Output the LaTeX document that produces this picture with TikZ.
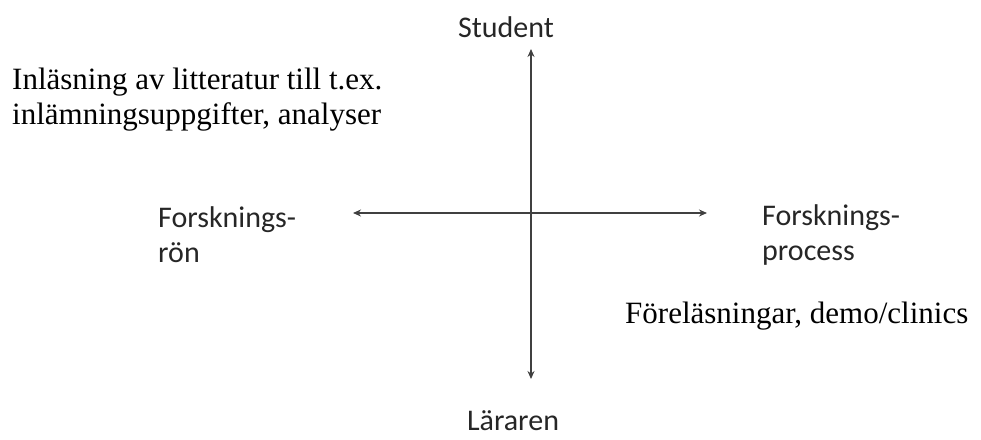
\documentclass[tikz,border=0pt]{standalone}
\usepackage{fontspec}
\setmainfont{Liberation Serif}
\newfontfamily\calibrifont{Carlito}
\usetikzlibrary{arrows.meta}
\tikzset{
  axis/.style={draw=black!75, line width=1.3pt, {Stealth[length=8pt,width=7pt]}-{Stealth[length=8pt,width=7pt]}},
  sanslabel/.style={font=\calibrifont\fontsize{30}{35}\selectfont, text=black!85, inner sep=0pt},
  seriflabel/.style={font=\fontsize{31}{35}\selectfont, text=black, inner sep=0pt}
}
\begin{document}
\begin{tikzpicture}[x=1pt,y=-1pt]
\useasboundingbox (0,0) rectangle (981,439);
\coordinate (top) at (531,49);
\coordinate (bottom) at (531,379);
\coordinate (left) at (353,213);
\coordinate (right) at (707,213);
\draw[axis] (bottom) -- (top);
\draw[axis] (left) -- (right);
\node[sanslabel, anchor=base] (student) at (506,37) {Student};
\node[sanslabel, anchor=base] (lararen) at (513,430) {Läraren};
\node[sanslabel, anchor=base west] (ronl) at (158,227) {\begin{tabular}[t]{@{}l@{}}Forsknings-\\rön\end{tabular}};
\node[sanslabel, anchor=base west] (procl) at (762,225) {\begin{tabular}[t]{@{}l@{}}Forsknings-\\process\end{tabular}};
\node[seriflabel, anchor=base west] (inlas) at (12,89) {\begin{tabular}[t]{@{}l@{}}Inläsning av litteratur till t.ex.\\inlämningsuppgifter, analyser\end{tabular}};
\node[seriflabel, anchor=base west] (forel) at (625,323) {Föreläsningar, demo/clinics};
\end{tikzpicture}
\end{document}
